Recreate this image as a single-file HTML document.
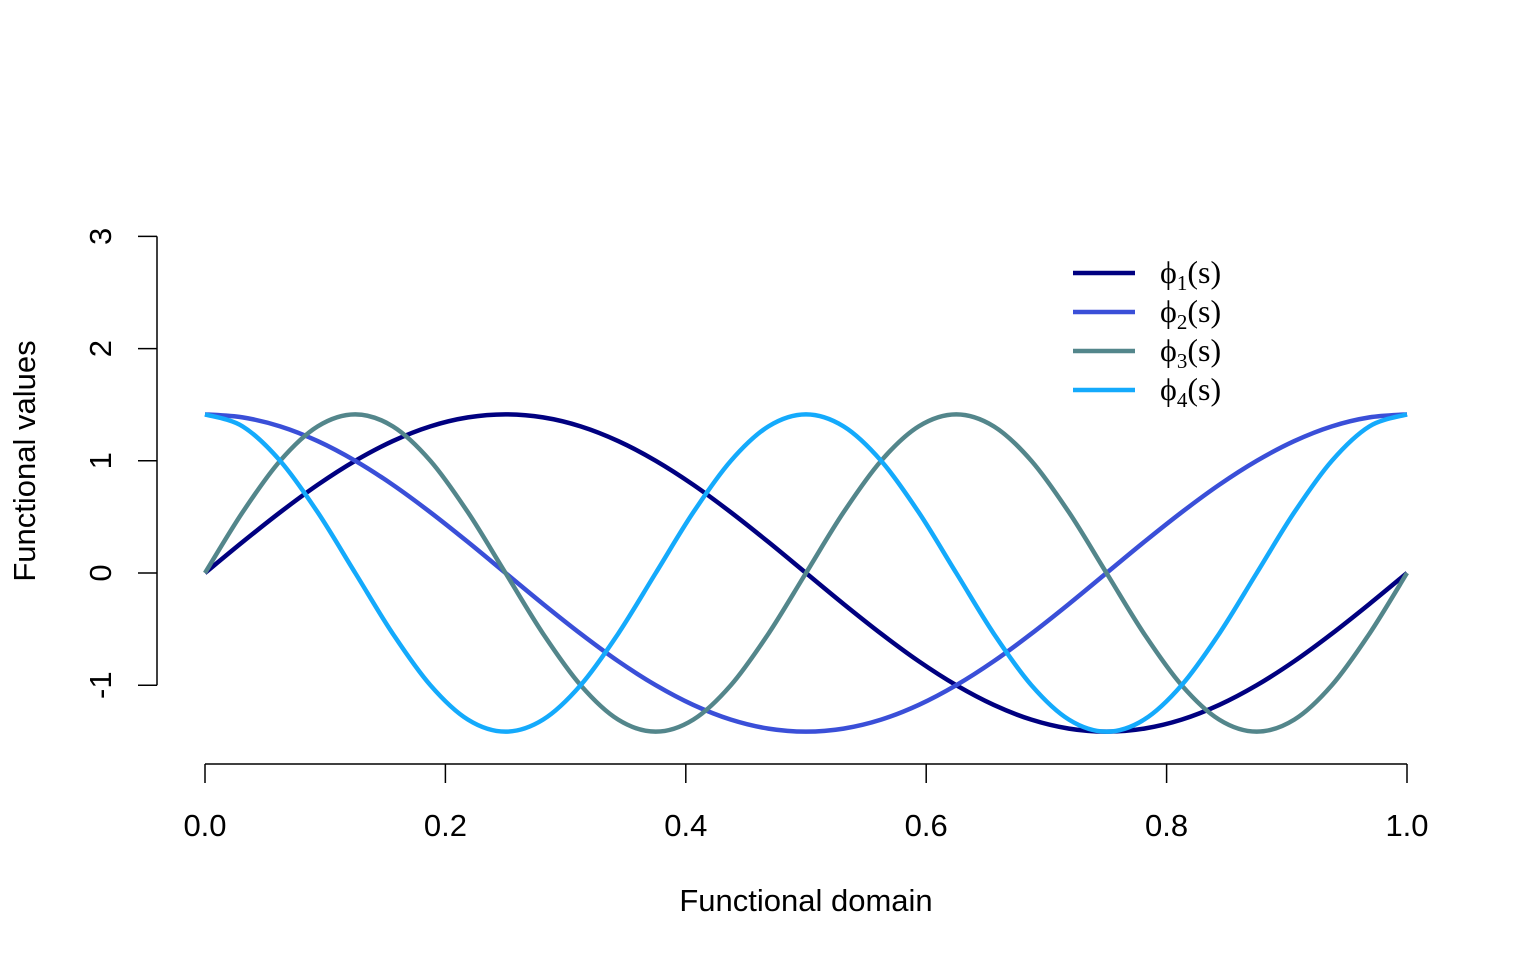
<!DOCTYPE html>
<html><head><meta charset="utf-8"><style>
body{margin:0;background:#fff}
svg{display:block;font-family:"Liberation Sans",sans-serif}
</style></head><body>
<svg id="chart" width="1536" height="960" viewBox="0 0 1536 960">
<g id="axes"></g>
<g id="series"></g>
<g id="legend"></g>
<text x="806" y="911" font-size="31" text-anchor="middle">Functional domain</text>
<text transform="translate(35,461) rotate(-90)" font-size="31" text-anchor="middle">Functional values</text>
</svg>
<script>
const sValues=[0,1/32,2/32,3/32,4/32,5/32,6/32,7/32,8/32,9/32,10/32,11/32,12/32,13/32,14/32,15/32,16/32,17/32,18/32,19/32,20/32,21/32,22/32,23/32,24/32,25/32,26/32,27/32,28/32,29/32,30/32,31/32,1];
const phi1=[0,.276,.541,.786,1,1.176,1.307,1.387,1.414,1.387,1.307,1.176,1,.786,.541,.276,0,-.276,-.541,-.786,-1,-1.176,-1.307,-1.387,-1.414,-1.387,-1.307,-1.176,-1,-.786,-.541,-.276,0];
const phi2=[1.414,1.387,1.307,1.176,1,.786,.541,.276,0,-.276,-.541,-.786,-1,-1.176,-1.307,-1.387,-1.414,-1.387,-1.307,-1.176,-1,-.786,-.541,-.276,0,.276,.541,.786,1,1.176,1.307,1.387,1.414];
const phi3=[0,.541,1,1.307,1.414,1.307,1,.541,0,-.541,-1,-1.307,-1.414,-1.307,-1,-.541,0,.541,1,1.307,1.414,1.307,1,.541,0,-.541,-1,-1.307,-1.414,-1.307,-1,-.541,0];
const phi4=[1.414,1.307,1,.541,0,-.541,-1,-1.307,-1.414,-1.307,-1,-.541,0,.541,1,1.307,1.414,1.307,1,.541,0,-.541,-1,-1.307,-1.414,-1.307,-1,-.541,0,.541,1,1.307,1.414];
const xTicks=[0,0.2,0.4,0.6,0.8,1.0];
const xTickLabels=["0.0","0.2","0.4","0.6","0.8","1.0"];
const yTicks=[-1,0,1,2,3];
const yTickLabels=["-1","0","1","2","3"];
const seriesNames=["1","2","3","4"];
const colors=["#000080","#3a4fd8","#53868b","#14aafc"];
const NS="http://www.w3.org/2000/svg";
const X=v=>205+v*1202, Y=v=>573-v*112.2;
function mk(tag,attrs,parent){const e=document.createElementNS(NS,tag);for(const k in attrs)e.setAttribute(k,attrs[k]);parent.appendChild(e);return e;}
const axes=document.getElementById('axes');
let ax=mk('line',{x1:X(0),x2:X(1),y1:764,y2:764,stroke:'#000','stroke-width':1.5},axes);


xTicks.forEach((t,i)=>{
 const l=mk('line',{x1:X(t),x2:X(t),y1:764,y2:783,stroke:'#000','stroke-width':1.5},axes);
 
 
 const tx=mk('text',{x:X(t),y:836,'font-size':31,'text-anchor':'middle'},axes);tx.textContent=xTickLabels[i];
 
 
});
let ay=mk('line',{x1:157,x2:157,y1:Y(-1),y2:Y(3),stroke:'#000','stroke-width':1.5},axes);


yTicks.forEach((t,i)=>{
 const l=mk('line',{x1:138,x2:157,y1:Y(t),y2:Y(t),stroke:'#000','stroke-width':1.5},axes);
 
 
 const tx=mk('text',{transform:`translate(111,${Y(t)}) rotate(-90)`,'font-size':31,'text-anchor':'middle'},axes);tx.textContent=yTickLabels[i];
 
 
});
function path(vals){
 const p=sValues.map((s,i)=>[X(s),Y(vals[i])]);
 let d=`M${p[0][0]},${p[0][1]}`;
 for(let i=0;i<p.length-1;i++){
  const p0=p[Math.max(0,i-1)],p1=p[i],p2=p[i+1],p3=p[Math.min(p.length-1,i+2)];
  const c1=[p1[0]+(p2[0]-p0[0])/6,p1[1]+(p2[1]-p0[1])/6],c2=[p2[0]-(p3[0]-p1[0])/6,p2[1]-(p3[1]-p1[1])/6];
  d+=`C${c1[0]},${c1[1]} ${c2[0]},${c2[1]} ${p2[0]},${p2[1]}`;
 }
 return d;
}
const ser=document.getElementById('series');
[phi1,phi2,phi3,phi4].forEach((v,i)=>{
 const p=mk('path',{d:path(v),fill:'none',stroke:colors[i],'stroke-width':4.5},ser);
 
 
});
const lg=document.getElementById('legend');
seriesNames.forEach((n,i)=>{
 const y=273+i*39;
 const l=mk('line',{x1:1073,x2:1135,y1:y,y2:y,stroke:colors[i],'stroke-width':4.5},lg);
 
 
 const t=mk('text',{x:1160,y:y+10,'font-size':32,'font-family':'Liberation Serif, serif'},lg);
 t.innerHTML=`ϕ<tspan font-size="21" dy="7">${n}</tspan><tspan dy="-7">(s)</tspan>`;
 
 
});
</script>
</body></html>
